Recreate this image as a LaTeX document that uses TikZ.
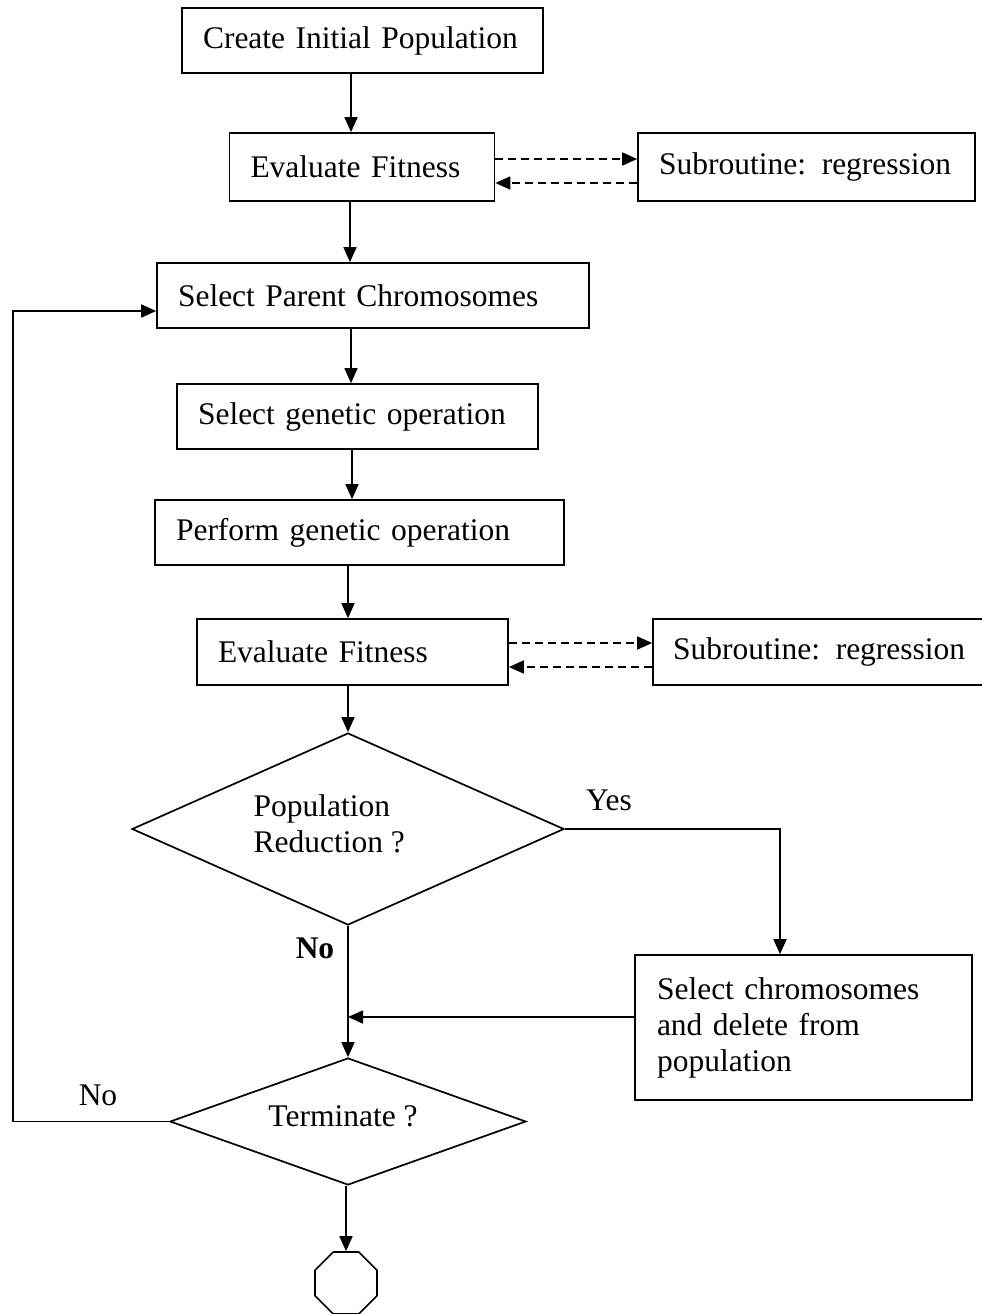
\documentclass[tikz,border=0pt]{standalone}
\usepackage{fontspec}
\setmainfont{Liberation Serif}
\usetikzlibrary{positioning, shapes.geometric, arrows.meta}

\begin{document}
\begin{tikzpicture}[x=1pt, y=-1pt,
    every node/.style={font=\fontsize{31.5}{36}\selectfont},
    box/.style={draw, line width=1.7pt, inner xsep=21pt, inner ysep=0pt, align=left},
    arr/.style={-{Triangle[length=15pt,width=13pt]}, line width=1.7pt},
    dasharr/.style={arr, dash pattern=on 8pt off 5pt}]
        \useasboundingbox (0,0) rectangle (982,1314);
        \clip (0,0) rectangle (982,1314);

        % Boxes
        \node[box, text width=319pt, minimum height=65pt] (init) at (362.5,40.5) {\mbox{Create Initial Population}};
        \node[box, text width=223pt, minimum height=68pt] (eval1) at (362,167) {\mbox{Evaluate Fitness}};
        \node[box, text width=295pt, minimum height=68pt] (sub1) at (806.5,167) {\mbox{Subroutine: regression}};
        \node[box, text width=390pt, minimum height=65pt] (parent) at (373,295.5) {\mbox{Select Parent Chromosomes}};
        \node[box, text width=319pt, minimum height=65pt] (selop) at (357.5,416.5) {\mbox{Select genetic operation}};
        \node[box, text width=367pt, minimum height=65pt] (perf) at (359.5,532.5) {\mbox{Perform genetic operation}};
        \node[box, text width=269pt, minimum height=66pt] (eval2) at (352.5,652) {\mbox{Evaluate Fitness}};
        \node[box, text width=305pt, minimum height=66pt, inner xsep=20pt] (sub2) at (825.5,652) {\mbox{Subroutine: regression}};
        \node[box, text width=293pt, minimum height=145pt, inner xsep=22pt] (delbox) at (803.5,1027.5) {\mbox{Select chromosomes}\\\mbox{and delete from}\\population};

        % Decisions
        \node[draw, diamond, aspect=2.25, line width=1.7pt, inner sep=0pt, minimum width=432pt, minimum height=192pt] (popred) at (348,829) {};
        \node[align=left, anchor=west] (popredtxt) at (250,824) {Population\\Reduction ?};
        \node[draw, diamond, aspect=2.8, line width=1.7pt, inner sep=0pt, minimum width=356pt, minimum height=127pt] (term) at (348,1121.5) {};
        \node (termtxt) at (343,1116) {Terminate ?};
        \node[draw, regular polygon, regular polygon sides=8, line width=1.7pt, inner sep=0pt, minimum size=67pt] (stop) at (346,1283) {};

        % Labels
        \node (yes) at (609,800) {Yes};
        \node[font=\fontsize{31.5}{36}\selectfont\bfseries] (nored) at (315,948) {No};
        \node (noterm) at (98,1095) {No};

        % Main line
        \draw[arr] ([xshift=-11.5pt]init.south) -- ([xshift=-11pt]eval1.north);
        \draw[arr] ([xshift=-12pt]eval1.south) -- ([xshift=-23pt]parent.north);
        \draw[arr] ([xshift=-22pt]parent.south) -- ([xshift=-6.5pt]selop.north);
        \draw[arr] ([xshift=-5.5pt]selop.south) -- ([xshift=-7.5pt]perf.north);
        \draw[arr] ([xshift=-11.5pt]perf.south) -- ([xshift=-4.5pt]eval2.north);
        \draw[arr] ([xshift=-4.5pt]eval2.south) -- (popred.north);
        \draw[arr] (popred.south) -- (term.north);
        \draw[arr] ([xshift=-2pt]term.south) -- (stop.north);

        % Subroutine calls
        \draw[dasharr] ([yshift=8pt]eval1.east) -- ([yshift=8pt]sub1.west);
        \draw[dasharr] ([yshift=-16pt]sub1.west) -- ([yshift=-16pt]eval1.east);
        \draw[dasharr] ([yshift=9pt]eval2.east) -- ([yshift=9pt]sub2.west);
        \draw[dasharr] ([yshift=-15pt]sub2.west) -- ([yshift=-15pt]eval2.east);

        % Reduction branch
        \draw[arr] (popred.east) -| ([xshift=-23.5pt]delbox.north);
        \coordinate (join) at ([yshift=10.5pt]delbox.west);
        \draw[arr] (join) -- (join -| popred.south);

        % Loop back
        \coordinate (lft) at (13,0);
        \draw[arr] (term.west) -- (term.west -| lft) |- ([yshift=-15.5pt]parent.west);
      \end{tikzpicture}
\end{document}
